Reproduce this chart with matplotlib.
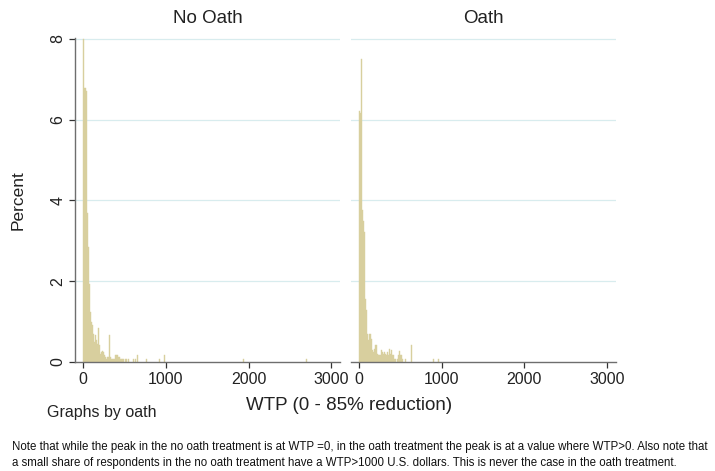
import matplotlib
matplotlib.use("Agg")
import matplotlib.pyplot as plt
import numpy as np

plt.rcParams['font.family'] = ['Liberation Sans', 'DejaVu Sans']

# ---- data: histogram bins (bin width in WTP units), percent per bin ----
bin_width = 12
panel_titles = ["No Oath", "Oath"]

no_oath_bins = [0, 1, 2, 3, 4, 5, 6, 7, 8, 9, 10, 11, 12, 13, 14, 15, 16, 17, 18, 19,
                20, 21, 22, 23, 24, 25, 26, 27, 28, 29, 30, 31, 32, 33, 34, 35, 36, 37,
                38, 39, 40, 42, 43, 45, 50, 52, 54, 63, 76, 81, 161, 224]
no_oath_pct = [8.0, 6.77, 6.77, 6.70, 3.68, 2.85, 1.94, 1.24, 0.99, 0.91, 0.70, 0.50,
               0.66, 0.54, 0.45, 0.83, 0.41, 0.20, 0.25, 0.26, 0.25, 0.18, 0.12, 0.08,
               0.12, 0.12, 0.66, 0.12, 0.08, 0.08, 0.08, 0.08, 0.17, 0.17, 0.17, 0.12,
               0.12, 0.08, 0.08, 0.08, 0.08, 0.08, 0.08, 0.08, 0.08, 0.08, 0.17, 0.08,
               0.08, 0.17, 0.08, 0.08]

oath_bins = [0, 1, 2, 3, 4, 5, 6, 7, 8, 9, 10, 11, 12, 13, 14, 15, 16, 17, 18, 19,
             20, 21, 22, 23, 24, 25, 26, 27, 28, 29, 30, 31, 32, 33, 34, 35, 36, 38,
             39, 40, 41, 42, 43, 46, 52, 75, 80]
oath_pct = [6.22, 6.16, 7.50, 3.76, 3.50, 3.22, 1.55, 1.28, 0.70, 0.54, 0.70, 0.70,
            0.58, 0.29, 0.25, 0.33, 0.41, 0.41, 0.20, 0.17, 0.17, 0.17, 0.30, 0.25,
            0.20, 0.25, 0.20, 0.17, 0.25, 0.17, 0.33, 0.20, 0.30, 0.17, 0.17, 0.08,
            0.08, 0.08, 0.17, 0.26, 0.17, 0.17, 0.08, 0.08, 0.43, 0.08, 0.08]

x_ticks = [0, 1000, 2000, 3000]
y_ticks = [0, 2, 4, 6, 8]
x_label = "WTP (0 - 85% reduction)"
y_label = "Percent"
by_note = "Graphs by oath"
note_lines = [
    "Note that while the peak in the no oath treatment is at WTP =0, in the oath treatment the peak is at a value where WTP>0. Also note that",
    "a small share of respondents in the no oath treatment have a WTP>1000 U.S. dollars. This is never the case in the oath treatment.",
]

# ---- style ----
W, H = 715, 471
bar_color = '#d8cf9e'
grid_color = '#d8ecee'
axis_color = '#6e6e6e'

fig = plt.figure(figsize=(W / 100, H / 100), dpi=100)

def px_rect(x0, y0, x1, y1):
    return [x0 / W, 1 - y1 / H, (x1 - x0) / W, (y1 - y0) / H]

axes = [fig.add_axes(px_rect(75, 38, 340, 362)),
        fig.add_axes(px_rect(350.7, 38, 615.7, 362))]

datasets = [(no_oath_bins, no_oath_pct), (oath_bins, oath_pct)]
for i, (ax, (bins, pct), title) in enumerate(zip(axes, datasets, panel_titles)):
    edges = np.array(bins) * bin_width
    ax.bar(edges, pct, width=bin_width, align='edge', color=bar_color,
           edgecolor=bar_color, linewidth=0.3, zorder=2)
    ax.set_xlim(-100, 3105)
    ax.set_ylim(0, 8.02)
    for g in y_ticks[1:]:
        ax.axhline(g, color=grid_color, linewidth=0.9, zorder=1)
    for s in ['top', 'right']:
        ax.spines[s].set_visible(False)
    ax.spines['bottom'].set_color(axis_color)
    ax.spines['bottom'].set_linewidth(1.0)
    ax.set_xticks(x_ticks)
    ax.set_xticklabels([str(t) for t in x_ticks], fontsize=11.5, color='#222222')
    ax.tick_params(axis='x', length=4, width=0.9, color='#333333', pad=3)
    if i == 0:
        ax.spines['left'].set_color(axis_color)
        ax.spines['left'].set_linewidth(1.0)
        ax.set_yticks(y_ticks)
        ax.set_yticklabels([str(t) for t in y_ticks], fontsize=11.5,
                           rotation=90, va='center', color='#222222')
        ax.tick_params(axis='y', length=4, width=0.9, color='#333333', pad=3)
    else:
        ax.spines['left'].set_visible(False)
        ax.set_yticks([])
    ax.set_title(title, fontsize=13.5, pad=11, color='#222222')
    ax.set_facecolor('white')

fig.text(18 / W, 1 - 200 / H, y_label, rotation=90, fontsize=12.5,
         ha='center', va='center', color='#222222')
fig.text(349 / W, 1 - 405 / H, x_label, fontsize=13.5, ha='center',
         va='center', color='#222222')
fig.text(47 / W, 1 - 412 / H, by_note, fontsize=11.5, ha='left',
         va='center', color='#222222')

# fit note width to ~700 px
t1 = fig.text(12 / W, 1 - 447 / H, note_lines[0], fontsize=8, ha='left',
              va='center', color='#111111')
fig.canvas.draw()
wpx = t1.get_window_extent().width
fs = 8 * 700 / wpx
t1.set_fontsize(fs)
fig.text(12 / W, 1 - 463 / H, note_lines[1], fontsize=fs, ha='left',
         va='center', color='#111111')

fig.savefig("out.png", dpi=100, facecolor='white')
